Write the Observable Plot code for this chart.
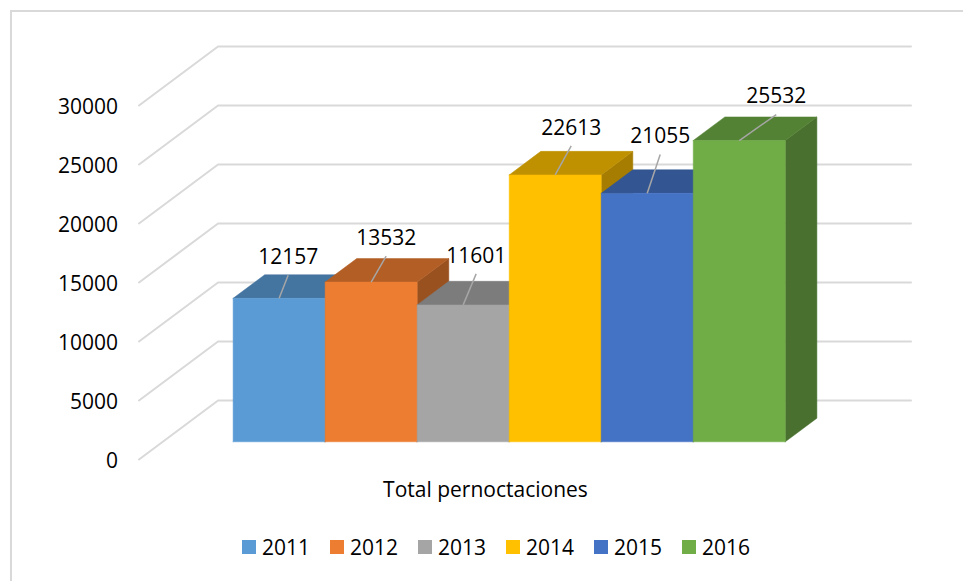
<!DOCTYPE html>
<html lang="es">
<head>
<meta charset="utf-8">
<script src="https://cdn.jsdelivr.net/npm/d3@7"></script>
<script src="https://cdn.jsdelivr.net/npm/@observablehq/plot@0.6"></script>
<style>
  html, body { margin: 0; background: #fff; }
  #page { position: relative; width: 963px; height: 581px; overflow: hidden; font-family: "Open Sans", sans-serif; color: #000; }
  #frame { position: absolute; left: 10px; top: 10px; width: 970px; height: 590px; border: 2px solid #d9d9d9; box-sizing: border-box; }
  #chart { position: relative; }
  #chart svg { display: block; background: transparent; }
  #legend { position: relative; display: flex; margin: 13px 0 0 242px; font-size: 21px; line-height: 28px; }
  #legend .item { display: flex; align-items: center; width: 88px; }
  #legend .swatch { width: 14px; height: 14px; margin-right: 6px; }
</style>
</head>
<body>
<div id="page">
  <div id="frame"></div>
  <div id="chart"></div>
  <div id="legend"></div>
</div>
<script>
// Chart data
const years = ["2011", "2012", "2013", "2014", "2015", "2016"];
const values = [12157, 13532, 11601, 22613, 21055, 25532];
const colors = ["#5B9BD5", "#ED7D31", "#A5A5A5", "#FFC000", "#4472C4", "#70AD47"];
const yTicks = [0, 5000, 10000, 15000, 20000, 25000, 30000];
const categoryLabel = "Total pernoctaciones";

// Leader-line lift of each data label, in bar widths and in axis units
const leaderAcross = [0.098, 0.163, 0.141, 0.174, 0.141, 0.402];
const leaderUp = [1950, 2200, 2630, 2460, 3300, 2200];

// Oblique projection of the 3D box: depth 0..1 shifts along x and y
const skewX = 0.859;         // bar widths per full depth
const skewY = 5000;          // axis units per full depth
const barDepth = [0.3, 0.7]; // bars occupy the middle of the floor
const floorPad = 0.765;      // floor extends beyond the first and last bar
const px = (u, t) => u + skewX * t;
const py = (v, t) => v + skewY * t;

// Wall and floor gridlines: one bent line per tick
const grid = yTicks.flatMap(v => [
  {v, x: px(-floorPad, 0), y: py(v, 0)},
  {v, x: px(-floorPad, 1), y: py(v, 1)},
  {v, x: px(years.length + floorPad, 1), y: py(v, 1)}
]);

// Faces of each bar, painted left to right
const shade = (c, k) => { const q = d3.rgb(c); return d3.rgb(q.r * k, q.g * k, q.b * k).formatHex(); };
const [t0, t1] = barDepth;
const faces = years.flatMap((year, i) => {
  const v = values[i], a = i, b = i + 1;
  const face = (name, color, corners) =>
    [...corners, corners[0]].map(([u, w, t]) => ({face: year + name, color, x: px(u, t), y: py(w, t)}));
  return [
    ...face("side", shade(colors[i], 0.65), [[b, 0, t0], [b, 0, t1], [b, v, t1], [b, v, t0]]),
    ...face("top", shade(colors[i], 0.75), [[a, v, t0], [b, v, t0], [b, v, t1], [a, v, t1]]),
    ...face("front", colors[i], [[a, 0, t0], [b, 0, t0], [b, v, t0], [a, v, t0]])
  ];
});

// Data labels with their leader lines
const labels = years.map((year, i) => ({
  value: values[i],
  x1: px(i + 0.5, t0),
  y1: py(values[i], t0),
  x2: px(i + 0.5, t0) + leaderAcross[i],
  y2: py(values[i], t0) + leaderUp[i]
}));

const plot = Plot.plot({
  width: 963,
  height: 520,
  marginLeft: 138.5,
  marginRight: 52.5,
  marginTop: 46,
  marginBottom: 61,
  style: {fontFamily: '"Open Sans", sans-serif', fontSize: "21px", background: "transparent", color: "#000"},
  x: {domain: [px(-floorPad, 0), px(years.length + floorPad, 1)]},
  y: {domain: [0, py(30000, 1)]},
  marks: [
    Plot.line(grid, {x: "x", y: "y", z: "v", stroke: "#d9d9d9", strokeWidth: 2, curve: "linear"}),
    Plot.line(faces, {x: "x", y: "y", z: "face", fill: "color", stroke: "color", strokeWidth: 0.5, curve: "linear"}),
    Plot.link(labels, {x1: "x1", y1: "y1", x2: "x2", y2: "y2", stroke: "#a6a6a6", strokeWidth: 1.5}),
    Plot.text(labels, {x: "x2", y: "y2", text: d => String(d.value), dy: -18, fontSize: 21, fill: "#000"}),
    Plot.axisY(yTicks, {anchor: "left", tickSize: 0, tickPadding: 21, dy: 2, tickFormat: d => String(d), fontSize: 21, label: null}),
    Plot.axisX([years.length / 2], {anchor: "bottom", tickSize: 0, tickPadding: 23, tickFormat: () => categoryLabel, fontSize: 21, label: null})
  ]
});
document.getElementById("chart").append(plot);

// Legend below the SVG
const legend = d3.select("#legend");
years.forEach((year, i) => {
  const item = legend.append("div").attr("class", "item");
  item.append("span").attr("class", "swatch").style("background", colors[i]);
  item.append("span").text(year);
});
</script>
</body>
</html>
